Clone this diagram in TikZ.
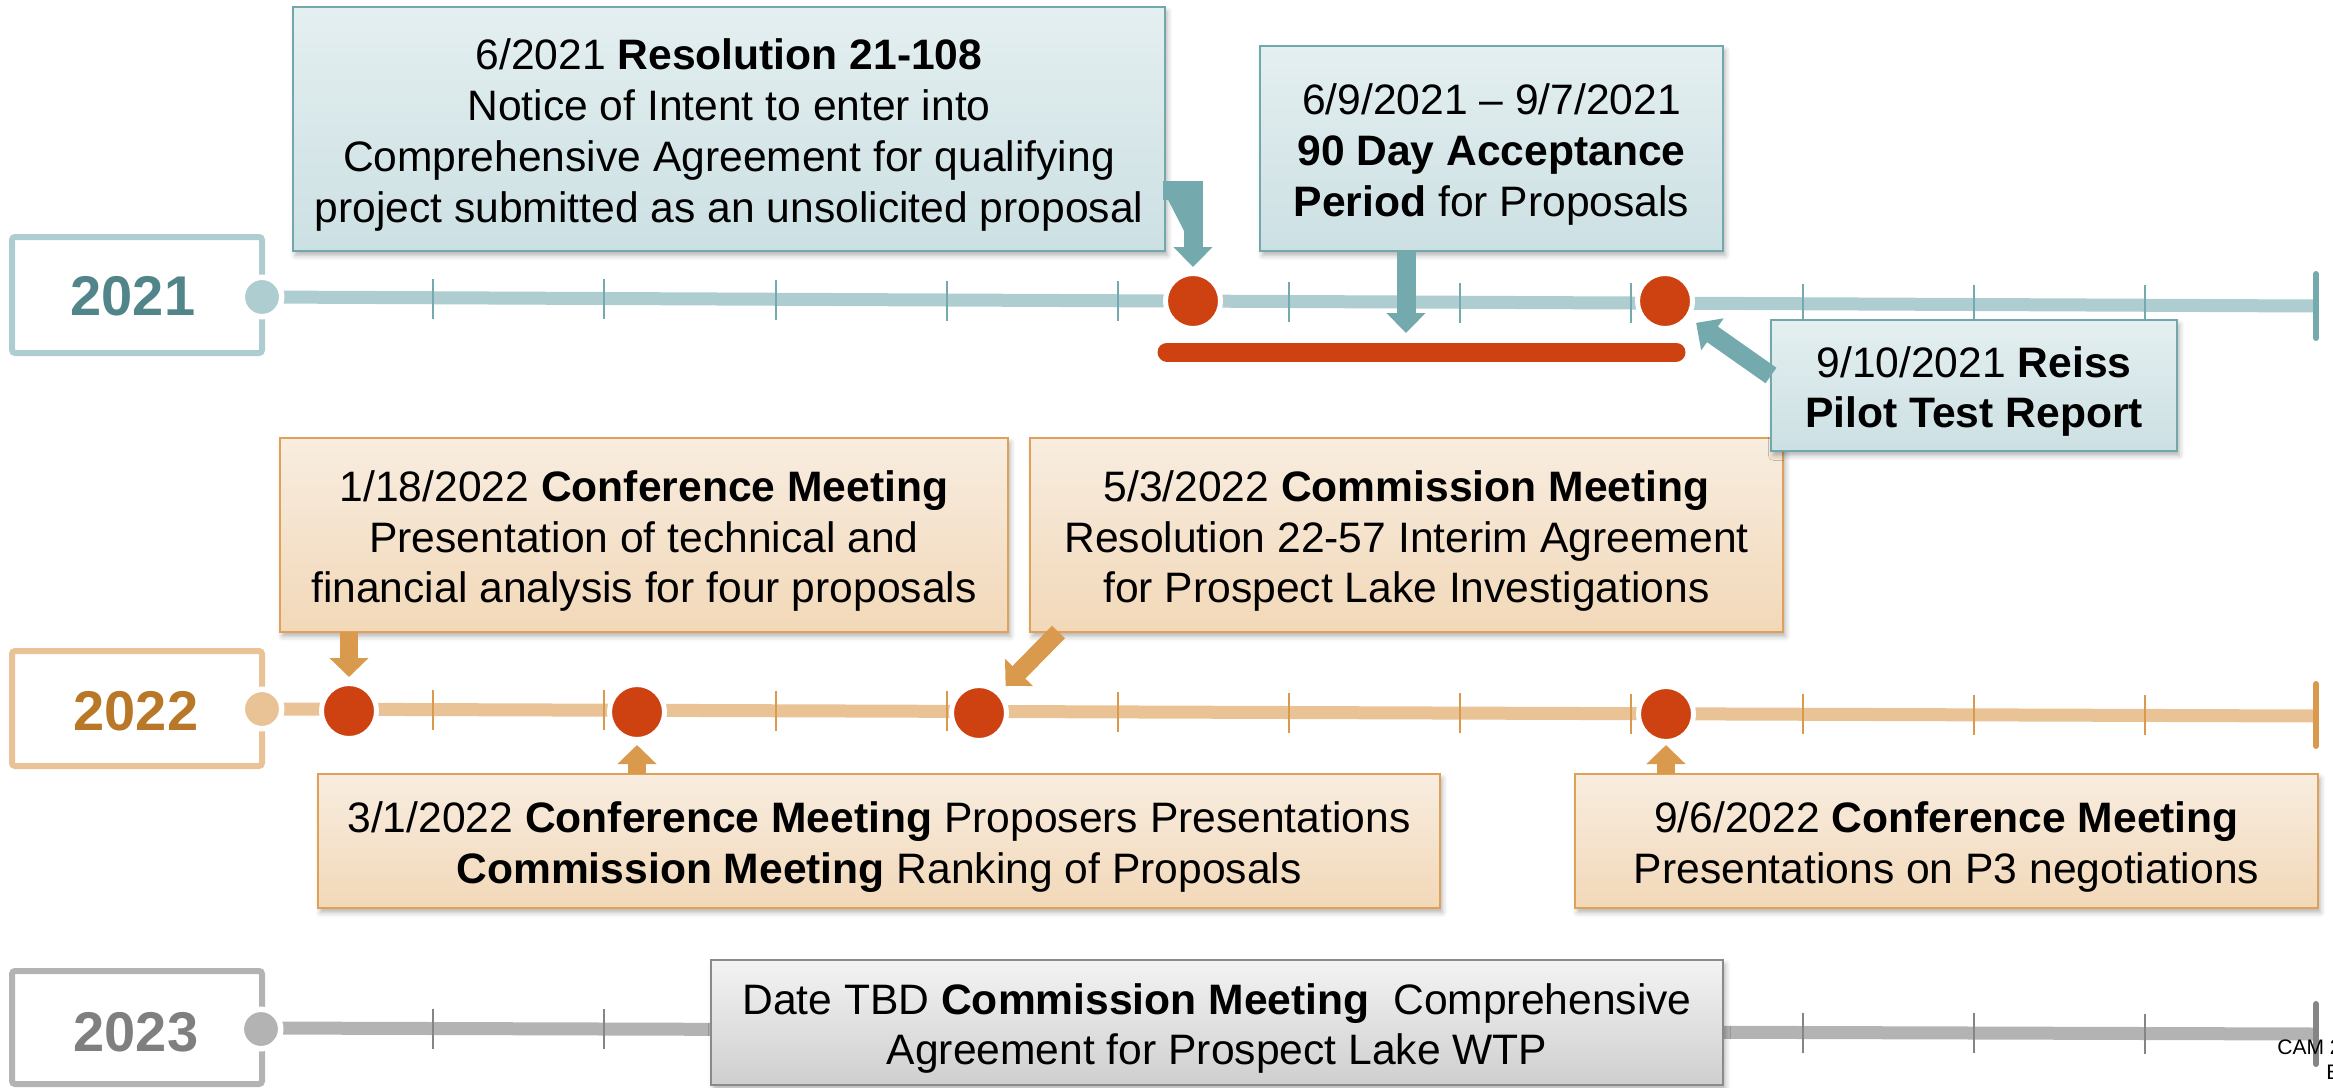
\documentclass[tikz,border=0pt]{standalone}
\usepackage{fontspec}
\setmainfont{Liberation Sans}
\usetikzlibrary{arrows.meta,calc,shadows.blur}
\definecolor{tealline}{HTML}{AECDD0}
\definecolor{tealdark}{HTML}{74AAAE}
\definecolor{tealtext}{HTML}{52858A}
\definecolor{orline}{HTML}{E9C396}
\definecolor{ordark}{HTML}{D99A4E}
\definecolor{ortext}{HTML}{B87828}
\definecolor{grline}{HTML}{B3B3B3}
\definecolor{grdark}{HTML}{858585}
\definecolor{grtext}{HTML}{7F7F7F}
\definecolor{evred}{HTML}{CD4210}
\definecolor{tealtop}{HTML}{E4EFF0}
\definecolor{tealbot}{HTML}{CCE0E3}
\definecolor{tealbord}{HTML}{72A8AB}
\definecolor{ortop}{HTML}{F8EDE0}
\definecolor{orbot}{HTML}{F2D8B8}
\definecolor{orbord}{HTML}{DFA058}
\definecolor{grtop}{HTML}{F3F3F3}
\definecolor{grbot}{HTML}{CFCFCF}
\definecolor{grbord}{HTML}{8A8A8A}
\newcommand\tstrut{\rule{0pt}{21.5pt}}
\begin{document}
\begin{tikzpicture}[x=0.5pt,y=-0.5pt,
  yearbox/.style={draw=#1, line width=3pt, rounded corners=1.5pt, minimum width=125pt, inner sep=0pt, outer sep=0pt},
  yeartext/.style={font=\fontsize{28}{30}\selectfont\bfseries, text=#1, inner sep=0pt},
  startdot/.style={circle, fill=#1, draw=white, line width=2.75pt, minimum size=19.75pt, inner sep=0pt},
  evdot/.style={circle, fill=evred, draw=white, line width=2.5pt, minimum size=27.5pt, inner sep=0pt},
  tline/.style={draw=#1, line width=6.5pt},
  tick/.style={draw=#1, line width=1pt},
  endtick/.style={draw=#1, line width=3pt, line cap=round},
  evbox/.style={rectangle, align=center, inner sep=0pt, outer sep=0pt, line width=1pt,
     font=\fontsize{21.3}{25.4}\selectfont,
     blur shadow={shadow xshift=1.2pt, shadow yshift=-2.2pt, shadow blur radius=2.5pt, shadow opacity=30}},
  tealbox/.style={evbox, draw=tealbord, top color=tealtop, bottom color=tealbot},
  orbox/.style={evbox, draw=orbord, top color=ortop, bottom color=orbot},
  grbox/.style={evbox, draw=grbord, top color=grtop, bottom color=grbot},
  arr21/.style={draw=tealdark, fill=tealdark, line width=9.5pt, -{Triangle[width=19pt,length=10pt]}},
  arr22/.style={draw=ordark, fill=ordark, line width=9pt, -{Triangle[width=19pt,length=9.5pt]}}
]
\useasboundingbox (0,0) rectangle (2333,1087);

% ---------- year boxes ----------
\node[yearbox=tealline, minimum height=58pt] (y21) at (137,295) {};
\node[yearbox=orline, minimum height=57.5pt] (y22) at (137,708.5) {};
\node[yearbox=grline, minimum height=56.5pt] (y23) at (137,1027.5) {};
\node[yeartext=tealtext] (y21t) at (133,296) {2021};
\node[yeartext=ortext] (y22t) at (136,711) {2022};
\node[yeartext=grtext] (y23t) at (136,1032) {2023};

% ---------- timelines ----------
\coordinate (e21) at (2316,306);
\coordinate (e22) at (2316,716);
\coordinate (e23) at (2316,1034);
\draw[tline=tealline] (262,297) -- (e21);
\draw[tline=orline] (262,709) -- (e22);
\draw[tline=grline] (262,1028) -- (e23);
\foreach \k in {1,...,11}{
  \pgfmathsetmacro\xx{262+171.17*\k}
  \pgfmathsetmacro\ya{298+(\xx-262)*8/2054}
  \pgfmathsetmacro\yb{709+(\xx-262)*7/2054}
  \pgfmathsetmacro\yc{1028+(\xx-262)*6/2054}
  \draw[tick=tealdark] (\xx,\ya-20) -- (\xx,\ya+20);
  \draw[tick=ordark] (\xx,\yb-20) -- (\xx,\yb+20);
  \draw[tick=grdark] (\xx,\yc-20) -- (\xx,\yc+20);
}
\draw[endtick=tealdark] ([yshift=16pt]e21) -- ([yshift=-16pt]e21);
\draw[endtick=ordark] ([yshift=16pt]e22) -- ([yshift=-15pt]e22);
\draw[endtick=grdark] ([yshift=15pt]e23) -- ([yshift=-15pt]e23);

% ---------- start dots ----------
\node[startdot=tealline] (s21) at (262,297) {};
\node[startdot=orline] (s22) at (262,709) {};
\node[startdot=grline] (s23) at (261,1029) {};

% ---------- events ----------
\node[evdot] (c21a) at (1193,301) {};
\node[evdot] (c21b) at (1665,301) {};
\coordinate (barL) at (1167,352);
\coordinate (barR) at (1676,352);
\draw[evred, line width=9.5pt, line cap=round] (barL) -- (barR);

\node[evdot] (c22a) at (349,711) {};
\node[evdot] (c22b) at (637,712) {};
\node[evdot] (c22c) at (979,713) {};
\node[evdot] (c22d) at (1666,714) {};

% ---------- boxes (2021) ----------
\node[tealbox, minimum width=436pt, minimum height=122pt] (resA) at (729,129)
  {\tstrut 6/2021 \textbf{Resolution 21-108}\\Notice of Intent to enter into\\Comprehensive Agreement for qualifying\\project submitted as an unsolicited proposal};
\node[tealbox, minimum width=231.5pt, minimum height=102.5pt] (resB) at (1491.5,148.5)
  {\tstrut 6/9/2021 – 9/7/2021\\\textbf{90 Day Acceptance}\\\textbf{Period} for Proposals};

% ---------- boxes (2022) ----------
\node[orbox, minimum width=364pt, minimum height=97pt] (resD) at (644,535)
  {\tstrut 1/18/2022 \textbf{Conference Meeting}\\Presentation of technical and\\financial analysis for four proposals};
\node[orbox, minimum width=376.5pt, minimum height=97pt] (resE) at (1406.5,535)
  {\tstrut 5/3/2022 \textbf{Commission Meeting}\\Resolution 22-57 Interim Agreement\\for Prospect Lake Investigations};
\node[tealbox, minimum width=203pt, minimum height=65.5pt] (resC) at (1974,385.5)
  {\tstrut 9/10/2021 \textbf{Reiss}\\\textbf{Pilot Test Report}};
\node[orbox, minimum width=561pt, minimum height=67pt] (resF) at (879,841)
  {\tstrut 3/1/2022 \textbf{Conference Meeting} Proposers Presentations\\\textbf{Commission Meeting} Ranking of Proposals};
\node[orbox, minimum width=371.5pt, minimum height=67pt] (resG) at (1946.5,841)
  {\tstrut 9/6/2022 \textbf{Conference Meeting}\\Presentations on P3 negotiations};

% ---------- box (2023) ----------
\node[grbox, minimum width=506pt, minimum height=62.5pt] (resH) at (1217,1022.5)
  {\tstrut Date TBD \textbf{Commission Meeting}\ \ Comprehensive\\Agreement for Prospect Lake WTP};

% ---------- arrows ----------
\coordinate (tipB) at (1406,333);
\draw[arr21] ([xshift=-1pt,yshift=30.5pt]resA.south east) -| ([yshift=2pt]c21a.north);
\draw[arr21] (resB.south -| tipB) -- (tipB);
\draw[arr21, shorten >=4pt] ([yshift=5pt]resC.west) -- (c21b);

\draw[arr22] (resD.south -| c22a) -- ([yshift=2pt]c22a.north);
\draw[arr22] (resF.north -| c22b) -- ([yshift=-1.5pt]c22b.south);
\draw[arr22, shorten >=4pt] ([xshift=-174pt]resE.south) -- (c22c);
\draw[arr22] (resG.north -| c22d) -- ([yshift=-0.5pt]c22d.south);

% ---------- corner text ----------
\node[anchor=west, inner sep=0pt, font=\fontsize{10.5}{12}\selectfont] (cam) at (2277,1047) {CAM 2};
\node[anchor=west, inner sep=0pt, font=\fontsize{10.5}{12}\selectfont] (camb) at (2326,1072) {E};
\end{tikzpicture}
\end{document}
